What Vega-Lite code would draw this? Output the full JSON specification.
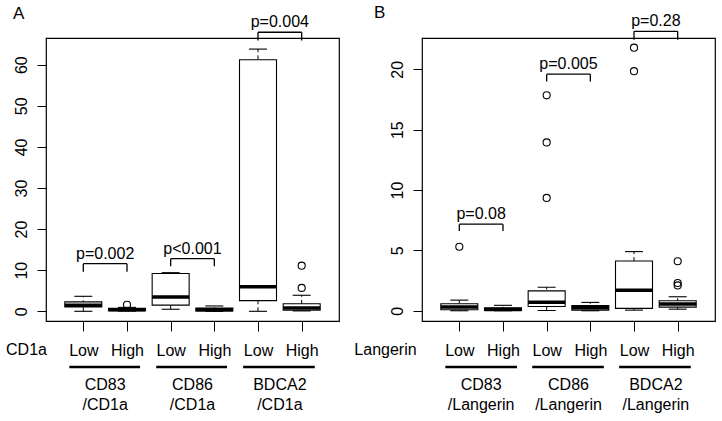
{
  "$schema": "https://vega.github.io/schema/vega-lite/v6.json",
  "padding": {"left": 4, "top": 3, "right": 8, "bottom": 3},
  "config": {
    "font": "Liberation Sans",
    "view": {"stroke": "black", "strokeWidth": 1.2},
    "axis": {"grid": false, "domain": false, "tickColor": "black", "labelColor": "black", "labelFontSize": 16, "tickSize": 9, "titleFontWeight": "normal", "titleFontSize": 16, "titleColor": "black"},
    "title": {"fontSize": 17, "fontWeight": "normal", "color": "black", "anchor": "start", "frame": "group", "offset": -9}
  },
  "spacing": 83,
  "bounds": "flush",
  "datasets": {
    "statsA": [
      {"pos": 1, "group": "CD83", "level": "Low", "lower": 0, "q1": 1.05, "median": 1.45, "q3": 2.3, "upper": 3.65},
      {"pos": 2, "group": "CD83", "level": "High", "lower": 0.05, "q1": 0.15, "median": 0.35, "q3": 0.75, "upper": 0.95},
      {"pos": 3, "group": "CD86", "level": "Low", "lower": 0.5, "q1": 1.5, "median": 3.5, "q3": 9.2, "upper": 9.4},
      {"pos": 4, "group": "CD86", "level": "High", "lower": 0, "q1": 0.1, "median": 0.4, "q3": 0.8, "upper": 1.3},
      {"pos": 5, "group": "BDCA2", "level": "Low", "lower": 0, "q1": 2.6, "median": 6.0, "q3": 61.2, "upper": 63.8},
      {"pos": 6, "group": "BDCA2", "level": "High", "lower": 0.1, "q1": 0.25, "median": 0.8, "q3": 1.85, "upper": 3.9}
    ],
    "outliersA": [
      {"pos": 2, "value": 1.6},
      {"pos": 6, "value": 11.1},
      {"pos": 6, "value": 5.7}
    ],
    "bracketsA": [
      {"label": "p=0.002", "x1": 1, "x2": 2, "mid": 1.5, "top": 11.6, "leg": 9.6},
      {"label": "p<0.001", "x1": 3, "x2": 4, "mid": 3.5, "top": 12.8, "leg": 10.95},
      {"label": "p=0.004", "x1": 5, "x2": 6, "mid": 5.5, "top": 67.9, "leg": 65.9}
    ],
    "groupsA": [
      {"label": "CD83\n/CD1a", "start": 0.68, "end": 2.3, "mid": 1.5},
      {"label": "CD86\n/CD1a", "start": 2.67, "end": 4.29, "mid": 3.5},
      {"label": "BDCA2\n/CD1a", "start": 4.66, "end": 6.3, "mid": 5.5}
    ],
    "statsB": [
      {"pos": 1, "group": "CD83", "level": "Low", "lower": 0, "q1": 0.08, "median": 0.3, "q3": 0.58, "upper": 0.88},
      {"pos": 2, "group": "CD83", "level": "High", "lower": 0, "q1": 0.02, "median": 0.1, "q3": 0.25, "upper": 0.45},
      {"pos": 3, "group": "CD86", "level": "Low", "lower": 0.02, "q1": 0.35, "median": 0.7, "q3": 1.65, "upper": 1.95},
      {"pos": 4, "group": "CD86", "level": "High", "lower": 0, "q1": 0.05, "median": 0.25, "q3": 0.42, "upper": 0.69},
      {"pos": 5, "group": "BDCA2", "level": "Low", "lower": 0.05, "q1": 0.2, "median": 1.7, "q3": 4.12, "upper": 4.9},
      {"pos": 6, "group": "BDCA2", "level": "High", "lower": 0.13, "q1": 0.3, "median": 0.55, "q3": 0.83, "upper": 1.16}
    ],
    "outliersB": [
      {"pos": 1, "value": 5.3},
      {"pos": 3, "value": 9.35},
      {"pos": 3, "value": 13.95},
      {"pos": 3, "value": 17.85},
      {"pos": 5, "value": 19.85},
      {"pos": 5, "value": 21.8},
      {"pos": 6, "value": 2.1},
      {"pos": 6, "value": 2.3},
      {"pos": 6, "value": 4.1}
    ],
    "bracketsB": [
      {"label": "p=0.08", "x1": 1, "x2": 2, "mid": 1.5, "top": 7.17, "leg": 6.6},
      {"label": "p=0.005", "x1": 3, "x2": 4, "mid": 3.5, "top": 19.6, "leg": 19.0},
      {"label": "p=0.28", "x1": 5, "x2": 6, "mid": 5.5, "top": 23.15, "leg": 22.46}
    ],
    "groupsB": [
      {"label": "CD83\n/Langerin", "start": 0.68, "end": 2.32, "mid": 1.5},
      {"label": "CD86\n/Langerin", "start": 2.67, "end": 4.31, "mid": 3.5},
      {"label": "BDCA2\n/Langerin", "start": 4.66, "end": 6.3, "mid": 5.5}
    ]
  },
  "hconcat": [
    {
      "width": 293,
      "height": 283,
      "title": {"text": "A", "dx": -33},
      "layer": [
        {
          "data": {"name": "statsA"},
          "mark": {"type": "rule", "color": "black", "strokeDash": [4, 3], "clip": false},
          "encoding": {
            "x": {"field": "pos", "type": "quantitative", "scale": {"domain": [0.26, 6.74], "nice": false, "zero": false},
              "axis": {"values": [1, 2, 3, 4, 5, 6], "labelExpr": "datum.value % 2 == 1 ? 'Low' : 'High'", "tickSize": 10, "labelPadding": 11, "title": "CD1a", "titleX": -20, "titleY": 28, "titleAlign": "center", "titleBaseline": "middle", "titleAnchor": null}},
            "y": {"field": "lower", "type": "quantitative", "scale": {"domain": [-2.36, 66.5], "nice": false, "zero": false},
              "axis": {"values": [0, 10, 20, 30, 40, 50, 60], "title": null, "labelAngle": 270, "labelAlign": "center", "labelBaseline": "bottom", "labelPadding": 8}},
            "y2": {"field": "upper"}
          }
        },
        {
          "data": {"name": "statsA"},
          "mark": {"type": "bar", "fill": "white", "stroke": "black", "strokeWidth": 1.1, "size": 37, "clip": false},
          "encoding": {
            "x": {"field": "pos", "type": "quantitative"},
            "y": {"field": "q1", "type": "quantitative"},
            "y2": {"field": "q3"}
          }
        },
        {
          "data": {"name": "statsA"},
          "mark": {"type": "tick", "orient": "horizontal", "color": "black", "size": 37, "thickness": 3.5, "opacity": 1, "clip": false},
          "encoding": {
            "x": {"field": "pos", "type": "quantitative"},
            "y": {"field": "median", "type": "quantitative"}
          }
        },
        {
          "data": {"name": "statsA"},
          "mark": {"type": "tick", "orient": "horizontal", "color": "black", "size": 18, "thickness": 1.1, "opacity": 1, "clip": false},
          "encoding": {
            "x": {"field": "pos", "type": "quantitative"},
            "y": {"field": "upper", "type": "quantitative"}
          }
        },
        {
          "data": {"name": "statsA"},
          "mark": {"type": "tick", "orient": "horizontal", "color": "black", "size": 18, "thickness": 1.1, "opacity": 1, "clip": false},
          "encoding": {
            "x": {"field": "pos", "type": "quantitative"},
            "y": {"field": "lower", "type": "quantitative"}
          }
        },
        {
          "data": {"name": "outliersA"},
          "mark": {"type": "point", "shape": "circle", "filled": false, "stroke": "black", "strokeWidth": 1.1, "size": 50, "opacity": 1, "clip": false},
          "encoding": {
            "x": {"field": "pos", "type": "quantitative"},
            "y": {"field": "value", "type": "quantitative"}
          }
        },
        {
          "data": {"name": "bracketsA"},
          "mark": {"type": "rule", "color": "black", "strokeWidth": 1.3, "clip": false},
          "encoding": {
            "x": {"field": "x1", "type": "quantitative"},
            "x2": {"field": "x2"},
            "y": {"field": "top", "type": "quantitative"}
          }
        },
        {
          "data": {"name": "bracketsA"},
          "mark": {"type": "rule", "color": "black", "strokeWidth": 1.3, "clip": false},
          "encoding": {
            "x": {"field": "x1", "type": "quantitative"},
            "y": {"field": "top", "type": "quantitative"},
            "y2": {"field": "leg"}
          }
        },
        {
          "data": {"name": "bracketsA"},
          "mark": {"type": "rule", "color": "black", "strokeWidth": 1.3, "clip": false},
          "encoding": {
            "x": {"field": "x2", "type": "quantitative"},
            "y": {"field": "top", "type": "quantitative"},
            "y2": {"field": "leg"}
          }
        },
        {
          "data": {"name": "bracketsA"},
          "mark": {"type": "text", "fontSize": 16, "color": "black", "baseline": "alphabetic", "align": "center", "dy": -5, "clip": false},
          "encoding": {
            "x": {"field": "mid", "type": "quantitative"},
            "y": {"field": "top", "type": "quantitative"},
            "text": {"field": "label"}
          }
        },
        {
          "data": {"name": "groupsA"},
          "mark": {"type": "rule", "color": "black", "strokeWidth": 2.5, "yOffset": 46, "clip": false},
          "encoding": {
            "x": {"field": "start", "type": "quantitative"},
            "x2": {"field": "end"},
            "y": {"datum": -2.36, "type": "quantitative"}
          }
        },
        {
          "data": {"name": "groupsA"},
          "mark": {"type": "text", "fontSize": 16, "color": "black", "baseline": "middle", "align": "center", "dy": 64, "lineBreak": "\n", "lineHeight": 20, "clip": false},
          "encoding": {
            "x": {"field": "mid", "type": "quantitative"},
            "y": {"datum": -2.36, "type": "quantitative"},
            "text": {"field": "label"}
          }
        }
      ]
    },
    {
      "width": 293,
      "height": 283,
      "title": {"text": "B", "dx": -48},
      "layer": [
        {
          "data": {"name": "statsB"},
          "mark": {"type": "rule", "color": "black", "strokeDash": [4, 3], "clip": false},
          "encoding": {
            "x": {"field": "pos", "type": "quantitative", "scale": {"domain": [0.26, 6.74], "nice": false, "zero": false},
              "axis": {"values": [1, 2, 3, 4, 5, 6], "labelExpr": "datum.value % 2 == 1 ? 'Low' : 'High'", "tickSize": 10, "labelPadding": 11, "title": "Langerin", "titleX": -37, "titleY": 28, "titleAlign": "center", "titleBaseline": "middle", "titleAnchor": null}},
            "y": {"field": "lower", "type": "quantitative", "scale": {"domain": [-0.85, 22.6], "nice": false, "zero": false},
              "axis": {"values": [0, 5, 10, 15, 20], "title": null, "labelAngle": 270, "labelAlign": "center", "labelBaseline": "bottom", "labelPadding": 8}},
            "y2": {"field": "upper"}
          }
        },
        {
          "data": {"name": "statsB"},
          "mark": {"type": "bar", "fill": "white", "stroke": "black", "strokeWidth": 1.1, "size": 37, "clip": false},
          "encoding": {
            "x": {"field": "pos", "type": "quantitative"},
            "y": {"field": "q1", "type": "quantitative"},
            "y2": {"field": "q3"}
          }
        },
        {
          "data": {"name": "statsB"},
          "mark": {"type": "tick", "orient": "horizontal", "color": "black", "size": 37, "thickness": 3.5, "opacity": 1, "clip": false},
          "encoding": {
            "x": {"field": "pos", "type": "quantitative"},
            "y": {"field": "median", "type": "quantitative"}
          }
        },
        {
          "data": {"name": "statsB"},
          "mark": {"type": "tick", "orient": "horizontal", "color": "black", "size": 18, "thickness": 1.1, "opacity": 1, "clip": false},
          "encoding": {
            "x": {"field": "pos", "type": "quantitative"},
            "y": {"field": "upper", "type": "quantitative"}
          }
        },
        {
          "data": {"name": "statsB"},
          "mark": {"type": "tick", "orient": "horizontal", "color": "black", "size": 18, "thickness": 1.1, "opacity": 1, "clip": false},
          "encoding": {
            "x": {"field": "pos", "type": "quantitative"},
            "y": {"field": "lower", "type": "quantitative"}
          }
        },
        {
          "data": {"name": "outliersB"},
          "mark": {"type": "point", "shape": "circle", "filled": false, "stroke": "black", "strokeWidth": 1.1, "size": 50, "opacity": 1, "clip": false},
          "encoding": {
            "x": {"field": "pos", "type": "quantitative"},
            "y": {"field": "value", "type": "quantitative"}
          }
        },
        {
          "data": {"name": "bracketsB"},
          "mark": {"type": "rule", "color": "black", "strokeWidth": 1.3, "clip": false},
          "encoding": {
            "x": {"field": "x1", "type": "quantitative"},
            "x2": {"field": "x2"},
            "y": {"field": "top", "type": "quantitative"}
          }
        },
        {
          "data": {"name": "bracketsB"},
          "mark": {"type": "rule", "color": "black", "strokeWidth": 1.3, "clip": false},
          "encoding": {
            "x": {"field": "x1", "type": "quantitative"},
            "y": {"field": "top", "type": "quantitative"},
            "y2": {"field": "leg"}
          }
        },
        {
          "data": {"name": "bracketsB"},
          "mark": {"type": "rule", "color": "black", "strokeWidth": 1.3, "clip": false},
          "encoding": {
            "x": {"field": "x2", "type": "quantitative"},
            "y": {"field": "top", "type": "quantitative"},
            "y2": {"field": "leg"}
          }
        },
        {
          "data": {"name": "bracketsB"},
          "mark": {"type": "text", "fontSize": 16, "color": "black", "baseline": "alphabetic", "align": "center", "dy": -5, "clip": false},
          "encoding": {
            "x": {"field": "mid", "type": "quantitative"},
            "y": {"field": "top", "type": "quantitative"},
            "text": {"field": "label"}
          }
        },
        {
          "data": {"name": "groupsB"},
          "mark": {"type": "rule", "color": "black", "strokeWidth": 2.5, "yOffset": 46, "clip": false},
          "encoding": {
            "x": {"field": "start", "type": "quantitative"},
            "x2": {"field": "end"},
            "y": {"datum": -0.85, "type": "quantitative"}
          }
        },
        {
          "data": {"name": "groupsB"},
          "mark": {"type": "text", "fontSize": 16, "color": "black", "baseline": "middle", "align": "center", "dy": 64, "lineBreak": "\n", "lineHeight": 20, "clip": false},
          "encoding": {
            "x": {"field": "mid", "type": "quantitative"},
            "y": {"datum": -0.85, "type": "quantitative"},
            "text": {"field": "label"}
          }
        }
      ]
    }
  ]
}
